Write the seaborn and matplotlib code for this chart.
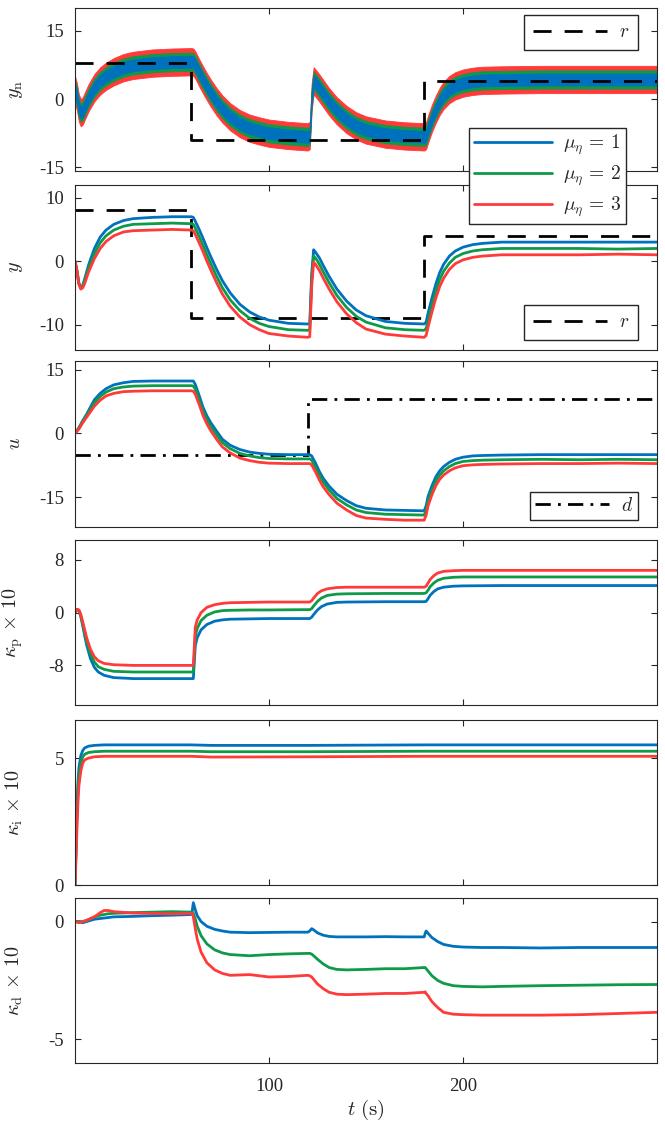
import matplotlib
matplotlib.use("Agg")
import matplotlib.pyplot as plt
import seaborn as sns

# ---------------- data ----------------
series_labels = [r"$\mu_\eta\,=\,1$", r"$\mu_\eta\,=\,2$", r"$\mu_\eta\,=\,3$"]
series_colors = ["#0072BD", "#0E9A48", "#FF3A3A"]

# reference r(t) and disturbance d(t), piecewise constant
r_t = [0, 60, 180, 300]
r_v = [8, -9, 4, 4]
d_t = [0, 120, 300]
d_v = [-5, 8, 8]

# output y(t) (also used for the noisy measurement panel)
t_y = [0, 1, 2, 3, 4, 5, 7, 10, 13, 16, 20, 25, 30, 40, 50, 60, 61, 62, 64, 66, 68, 70, 73, 76,
       80, 85, 90, 95, 100, 110, 120, 121, 122, 123, 124, 126, 128, 131, 135, 140, 145, 150,
       160, 170, 180, 181, 182, 184, 186, 188, 190, 193, 196, 200, 205, 210, 220, 240, 260,
       280, 300]
y_1 = [0, -1.5, -3.5, -4.2, -3.8, -2.8, -0.6, 2.0, 3.8, 4.9, 5.8, 6.4, 6.7, 6.9, 7.0, 7.0, 6.9,
       6.3, 5.0, 3.6, 2.1, 0.7, -1.3, -3.1, -5.0, -6.8, -8.0, -8.8, -9.3, -9.8, -9.9, -9.9, -2.0,
       1.8, 1.4, 0.5, -0.7, -2.4, -4.4, -6.3, -7.7, -8.6, -9.5, -9.8, -9.9, -9.6, -8.2, -5.8,
       -3.6, -1.8, -0.5, 0.8, 1.6, 2.2, 2.6, 2.8, 3.0, 3.0, 3.0, 3.0, 3.0]
y_2 = [0, -1.5, -3.5, -4.3, -4.0, -3.1, -1.1, 1.2, 2.9, 4.0, 4.9, 5.5, 5.8, 5.9, 6.0, 5.9, 5.8,
       5.2, 3.9, 2.5, 1.0, -0.4, -2.4, -4.2, -6.1, -7.8, -9.0, -9.8, -10.3, -10.8, -10.9, -10.8,
       -3.0, 0.8, 0.5, -0.5, -1.7, -3.4, -5.4, -7.3, -8.7, -9.6, -10.5, -10.8, -10.9, -10.6,
       -9.3, -6.9, -4.7, -2.9, -1.6, -0.3, 0.6, 1.2, 1.6, 1.8, 2.0, 2.0, 2.0, 1.9, 2.0]
y_3 = [0, -1.5, -3.6, -4.4, -4.2, -3.5, -1.7, 0.4, 2.0, 3.1, 4.0, 4.6, 4.8, 4.9, 5.0, 4.9, 4.8,
       4.2, 2.9, 1.5, 0.0, -1.4, -3.4, -5.2, -7.1, -8.8, -10.0, -10.8, -11.4, -11.8, -12.0,
       -11.9, -4.0, -0.2, -0.5, -1.5, -2.7, -4.4, -6.4, -8.3, -9.7, -10.7, -11.5, -11.8, -12.0,
       -11.7, -10.4, -8.0, -5.8, -4.0, -2.7, -1.3, -0.4, 0.2, 0.6, 0.8, 1.0, 1.0, 1.0, 1.1, 1.0]

# centre of the noisy measurement y_n and its noise half-width per case
yn_mid = [2.0, 0.5, -2.0, -3.0, -2.6, -1.6, 0.3, 2.5, 4.0, 5.0, 6.0, 6.9, 7.4, 7.9, 8.1, 8.2, 8.1,
          7.5, 5.8, 4.2, 2.7, 1.3, -0.6, -2.2, -3.9, -5.4, -6.4, -7.0, -7.5, -8.0, -8.3, -8.0,
          0.5, 4.0, 3.5, 2.4, 1.2, -0.6, -2.6, -4.5, -5.9, -6.8, -7.7, -8.1, -8.3, -8.0, -6.6,
          -4.2, -2.2, -0.5, 0.8, 2.1, 2.9, 3.5, 3.9, 4.1, 4.2, 4.3, 4.3, 4.3, 4.3]
yn_halfwidth = [1.3, 2.0, 3.0]

# control input u(t)
t_u = [0, 2, 4, 6, 8, 10, 13, 16, 20, 25, 30, 40, 50, 60, 61, 62, 64, 66, 68, 70, 73, 76, 80, 85,
       90, 95, 100, 110, 120, 121, 122, 124, 126, 128, 131, 135, 140, 145, 150, 160, 170, 180,
       181, 182, 184, 186, 188, 190, 193, 196, 200, 205, 210, 220, 240, 260, 280, 300]
u_1 = [0, 1.3, 3.0, 4.5, 6.2, 7.9, 9.4, 10.5, 11.4, 11.9, 12.2, 12.3, 12.3, 12.3, 12.3, 11.5, 8.9,
       6.1, 4.1, 2.5, 0.5, -1.4, -2.8, -3.8, -4.4, -4.7, -4.9, -5.0, -5.0, -5.0, -5.3, -7.0,
       -9.0, -10.6, -12.4, -14.3, -15.8, -17.0, -17.6, -18.0, -18.1, -18.2, -17.0, -14.8,
       -12.3, -10.2, -8.8, -7.8, -6.8, -6.1, -5.6, -5.3, -5.2, -5.1, -5.0, -5.0, -5.0, -5.0]
u_2 = [0, 1.2, 2.8, 4.2, 5.7, 7.2, 8.7, 9.7, 10.5, 10.9, 11.1, 11.2, 11.2, 11.2, 11.1, 10.4, 7.9,
       5.2, 3.2, 1.6, -0.4, -2.2, -3.6, -4.7, -5.3, -5.7, -5.9, -6.0, -6.0, -6.0, -6.3, -8.0,
       -9.9, -11.5, -13.3, -15.3, -16.8, -18.0, -18.6, -19.0, -19.1, -19.2, -18.0, -15.8,
       -13.3, -11.2, -9.8, -8.8, -7.8, -7.1, -6.6, -6.4, -6.3, -6.2, -6.1, -6.2, -6.1, -6.2]
u_3 = [0, 1.0, 2.5, 3.8, 5.1, 6.4, 7.8, 8.8, 9.4, 9.8, 9.9, 10.0, 10.0, 10.0, 9.9, 9.2, 6.8, 4.2,
       2.2, 0.6, -1.4, -3.2, -4.6, -5.8, -6.4, -6.8, -7.0, -7.1, -7.1, -7.1, -7.4, -9.1, -11.0,
       -12.6, -14.4, -16.4, -18.0, -19.3, -19.9, -20.2, -20.4, -20.4, -19.2, -17.0, -14.4,
       -12.3, -10.8, -9.8, -8.8, -8.1, -7.6, -7.4, -7.3, -7.2, -7.1, -7.1, -7.0, -7.1]

# proportional gain kappa_p x 10
t_kp = [0, 1, 2, 3, 4, 5, 6, 8, 10, 12, 15, 20, 30, 40, 50, 60, 61, 62, 63, 65, 68, 72, 76, 80, 90,
        100, 120, 121, 122, 123, 125, 127, 130, 135, 140, 160, 180, 181, 182, 183, 185, 187, 190,
        195, 200, 220, 250, 300]
kp_1 = [0, 0.5, 0.3, -0.6, -2.0, -3.5, -4.9, -7.0, -8.3, -9.0, -9.5, -9.85, -10.0, -10.0, -10.0,
        -10.0, -10.0, -5.0, -3.8, -2.6, -1.8, -1.3, -1.1, -1.0, -0.95, -0.9, -0.9, -0.9, -0.7,
        -0.3, 0.4, 0.9, 1.3, 1.55, 1.6, 1.65, 1.65, 1.7, 2.1, 2.6, 3.2, 3.6, 3.85, 4.0, 4.05,
        4.1, 4.1, 4.1]
kp_2 = [0, 0.5, 0.3, -0.5, -1.8, -3.1, -4.4, -6.3, -7.5, -8.2, -8.6, -8.9, -9.0, -9.0, -9.0,
        -9.0, -9.0, -3.6, -2.4, -1.2, -0.4, 0.1, 0.3, 0.35, 0.4, 0.4, 0.45, 0.45, 0.6, 1.0, 1.7,
        2.2, 2.6, 2.8, 2.85, 2.9, 2.9, 3.0, 3.4, 3.9, 4.5, 4.9, 5.2, 5.35, 5.4, 5.4, 5.4, 5.4]
kp_3 = [0, 0.5, 0.4, -0.3, -1.4, -2.6, -3.8, -5.6, -6.7, -7.3, -7.7, -7.9, -8.0, -8.0, -8.0,
        -8.0, -8.0, -2.2, -1.1, 0.0, 0.8, 1.2, 1.4, 1.5, 1.55, 1.6, 1.6, 1.6, 1.8, 2.2, 2.9, 3.3,
        3.6, 3.8, 3.85, 3.85, 3.85, 4.0, 4.5, 5.0, 5.6, 6.0, 6.25, 6.35, 6.4, 6.4, 6.4, 6.4]

# integral gain kappa_i x 10
t_ki = [0, 0.5, 1, 1.5, 2, 3, 4, 5, 7, 10, 15, 20, 60, 70, 120, 180, 250, 300]
ki_1 = [0, 1.5, 3.0, 4.0, 4.6, 5.1, 5.3, 5.4, 5.47, 5.5, 5.52, 5.52, 5.52, 5.5, 5.5, 5.52, 5.52, 5.52]
ki_2 = [0, 1.3, 2.7, 3.7, 4.3, 4.8, 5.05, 5.15, 5.22, 5.25, 5.27, 5.27, 5.27, 5.25, 5.25, 5.27,
        5.27, 5.27]
ki_3 = [0, 1.0, 2.2, 3.2, 3.9, 4.5, 4.8, 4.93, 5.0, 5.05, 5.07, 5.07, 5.07, 5.04, 5.05, 5.07,
        5.07, 5.07]

# derivative gain kappa_d x 10
t_kd = [0, 2, 4, 6, 10, 13, 15, 17, 20, 30, 40, 50, 60, 60.5, 61, 62, 63, 65, 68, 72, 76, 80, 90,
        100, 110, 120, 121, 122, 123, 125, 128, 131, 135, 140, 150, 160, 170, 180, 180.5, 181,
        182, 184, 187, 190, 195, 200, 210, 220, 240, 260, 280, 300]
kd_1 = [0.0, 0.0, -0.05, 0.0, 0.1, 0.13, 0.15, 0.17, 0.2, 0.22, 0.25, 0.27, 0.3, 0.5, 0.8, 0.5,
        0.25, 0.0, -0.2, -0.33, -0.4, -0.45, -0.47, -0.46, -0.45, -0.45, -0.4, -0.3, -0.35,
        -0.48, -0.58, -0.63, -0.65, -0.65, -0.65, -0.64, -0.65, -0.65, -0.5, -0.4, -0.5, -0.68,
        -0.85, -0.97, -1.05, -1.08, -1.1, -1.1, -1.12, -1.1, -1.1, -1.1]
kd_2 = [0.0, 0.0, 0.0, 0.05, 0.2, 0.27, 0.3, 0.33, 0.35, 0.38, 0.4, 0.42, 0.4, 0.4, 0.35, 0.1,
        -0.2, -0.6, -0.95, -1.2, -1.33, -1.4, -1.45, -1.4, -1.37, -1.35, -1.35, -1.38, -1.45,
        -1.6, -1.8, -1.95, -2.03, -2.05, -2.03, -2.0, -2.0, -1.95, -1.95, -2.0, -2.1, -2.3,
        -2.5, -2.62, -2.72, -2.75, -2.77, -2.75, -2.72, -2.7, -2.68, -2.67]
kd_3 = [0.0, -0.05, 0.0, 0.05, 0.2, 0.38, 0.47, 0.47, 0.42, 0.36, 0.35, 0.33, 0.35, 0.35, 0.2,
        -0.3, -0.75, -1.3, -1.75, -2.05, -2.2, -2.28, -2.25, -2.35, -2.33, -2.28, -2.3, -2.35,
        -2.45, -2.65, -2.85, -3.0, -3.08, -3.1, -3.08, -3.05, -3.05, -3.0, -2.98, -3.05, -3.15,
        -3.4, -3.65, -3.85, -3.93, -3.95, -3.97, -3.97, -3.97, -3.95, -3.9, -3.85]

# ---------------- style ----------------
sns.set_style("ticks")
plt.rcParams.update({
    "font.family": ["Liberation Serif", "DejaVu Serif"],
    "mathtext.fontset": "cm",
    "axes.unicode_minus": False,
    "axes.edgecolor": "#262626",
    "axes.linewidth": 0.8,
    "xtick.color": "#262626",
    "ytick.color": "#262626",
    "xtick.labelcolor": "#262626",
    "ytick.labelcolor": "#262626",
    "legend.edgecolor": "#262626",
})

W, H = 665, 1122
fig = plt.figure(figsize=(W / 100, H / 100), dpi=100)
left_px, right_px = 75, 657
panel_px = [(8, 171), (185, 350), (361, 527), (540, 705), (720, 885), (898, 1063)]
axes = [fig.add_axes([left_px / W, 1 - b / H, (right_px - left_px) / W, (b - t) / H])
        for t, b in panel_px]

LW = 2.0
dash_r = (0, (6.5, 4.7))
dash_d = (0, (5.5, 2.6, 1.0, 2.6))


def draw_series(ax, t, values):
    lines = []
    for vals, col in zip(values, series_colors):
        sns.lineplot(x=t, y=vals, color=col, lw=LW, ax=ax, estimator=None, sort=False)
        lines.append(ax.lines[-1])
    return lines


def draw_step(ax, t, v, ls):
    sns.lineplot(x=t, y=v, color="black", lw=LW, linestyle=ls, drawstyle="steps-post",
                 ax=ax, estimator=None, sort=False)
    return ax.lines[-1]


# panel 1: noisy measurement
ax = axes[0]
for hw, col in reversed(list(zip(yn_halfwidth, series_colors))):
    lo = [c - hw for c in yn_mid]
    hi = [c + hw for c in yn_mid]
    ax.fill_between(t_y, lo, hi, color=col, lw=0.6, edgecolor=col)
r1 = draw_step(ax, r_t, r_v, dash_r)
ax.set_ylim(-15.8, 20)
ax.set_yticks([-15, 0, 15])
ax.set_ylabel(r"$y_{\rm n}$")

# panel 2: output
ax = axes[1]
r2 = draw_step(ax, r_t, r_v, dash_r)
mu_lines = draw_series(ax, t_y, [y_1, y_2, y_3])
ax.set_ylim(-14, 12)
ax.set_yticks([-10, 0, 10])
ax.set_ylabel(r"$y$")

# panel 3: control input
ax = axes[2]
d3 = draw_step(ax, d_t, d_v, dash_d)
draw_series(ax, t_u, [u_1, u_2, u_3])
ax.set_ylim(-22, 17)
ax.set_yticks([-15, 0, 15])
ax.set_ylabel(r"$u$")

# panels 4-6: adaptive gains
ax = axes[3]
draw_series(ax, t_kp, [kp_1, kp_2, kp_3])
ax.set_ylim(-14, 11)
ax.set_yticks([-8, 0, 8])
ax.set_ylabel(r"$\kappa_{\rm p}\,\times\,10$")

ax = axes[4]
draw_series(ax, t_ki, [ki_1, ki_2, ki_3])
ax.set_ylim(0, 6.5)
ax.set_yticks([0, 5])
ax.set_ylabel(r"$\kappa_{\rm i}\,\times\,10$")

ax = axes[5]
draw_series(ax, t_kd, [kd_1, kd_2, kd_3])
ax.set_ylim(-6, 1)
ax.set_yticks([-5, 0])
ax.set_ylabel(r"$\kappa_{\rm d}\,\times\,10$")
ax.set_xlabel(r"$t\ ({\rm s})$", fontsize=15, labelpad=2)

for i, ax in enumerate(axes):
    ax.set_xlim(0, 300)
    ax.set_xticks([100, 200])
    ax.tick_params(axis="both", direction="in", length=4, width=0.8, top=True, right=True,
                   labelsize=13.5)
    ax.tick_params(axis="y", pad=8)
    ax.tick_params(axis="x", pad=11)
    if i < len(axes) - 1:
        ax.tick_params(labelbottom=False)
    ax.yaxis.label.set_size(14.5)
    ax.yaxis.set_label_coords(-0.086, 0.5)
    for s in ax.spines.values():
        s.set_visible(True)

leg_kw = dict(frameon=True, fancybox=False, framealpha=1, fontsize=14, handlelength=3.8,
              handletextpad=0.6, borderaxespad=0)
axes[0].legend([r1], [r"$r$"], loc="upper right", bbox_to_anchor=(0.967, 0.957),
               borderpad=0.45, **leg_kw)
axes[1].legend([r2], [r"$r$"], loc="lower right", bbox_to_anchor=(0.967, 0.06),
               borderpad=0.45, **leg_kw)
axes[2].legend([d3], [r"$d$"], loc="lower right", bbox_to_anchor=(0.967, 0.042),
               borderpad=0.25, **leg_kw)

mu_kw = dict(leg_kw)
mu_kw["handlelength"] = 4.0
fig.legend(mu_lines, series_labels, loc="upper left", bbox_to_anchor=(469 / W, 1 - 128 / H),
           borderpad=0.25, labelspacing=0.35, **mu_kw)

fig.savefig("out.png", dpi=100)
